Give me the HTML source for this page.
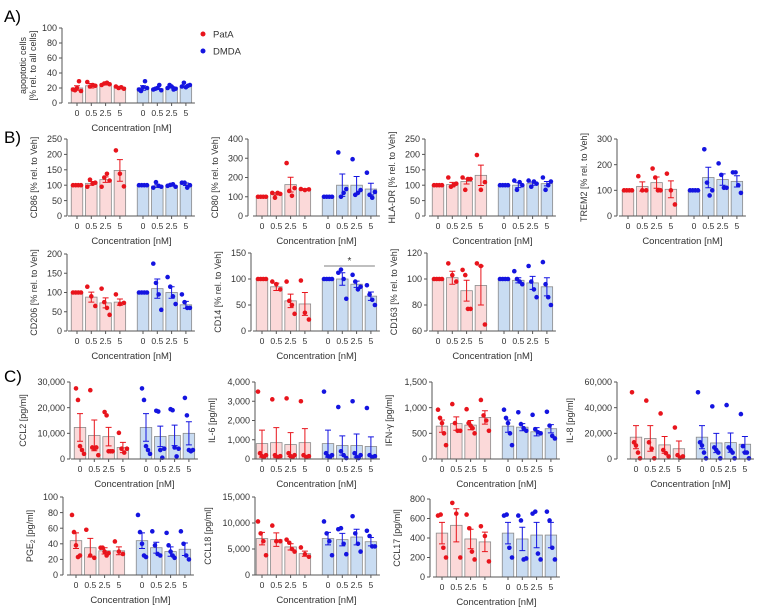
<!DOCTYPE html>
<html><head><meta charset="utf-8"><style>
html,body{margin:0;padding:0;background:#fff;}
svg{display:block;font-family:"Liberation Sans",sans-serif;}
</style></head><body>
<svg id="fig" width="762" height="610" viewBox="0 0 762 610" xmlns="http://www.w3.org/2000/svg">
<text x="4" y="22" font-size="17">A)</text>
<text x="4" y="143" font-size="17">B)</text>
<text x="4" y="382" font-size="17">C)</text>
<g>
<circle cx="203" cy="34" r="2.5" fill="#e8141c"/>
<text x="213" y="37.5" font-size="9.5" fill="#333">PatA</text>
<circle cx="203" cy="51" r="2.5" fill="#1414e0"/>
<text x="213" y="54.5" font-size="9.5" fill="#333">DMDA</text>
</g>
</svg>
<script>
const xCategories=["0","0.5","2.5","5"];
// Panel A
const apopMeans=[20,23,25,21,20,19,21,22];
const apopSem=[3,3,1,1,3,1,1,1];
const apopPts=[[18,17,20,29,16],[28,22,24,23],[24,26,27,25],[22,20,21,19],[18,16,21,29,20],[18,19,20,24,17],[20,24,22,18,19],[22,27,21,23,24]];
const apopTicks=[0,20,40,60,80,100];
// CD86
const cd86Means=[100,106,118,148,100,97,99,103];
const cd86Sem=[0,6,9,35,0,4,2,4];
const cd86Pts=[[100,100,100,100],[95,118,105,108],[95,125,137,115],[213,137,96],[100,100,100,100],[92,110,98,95],[98,101,103,95],[108,108,92,100]];
const cd86Ticks=[0,50,100,150,200,250];
// CD80
const cd80Means=[100,115,163,138,100,160,160,140];
const cd80Sem=[0,6,38,4,0,58,45,30];
const cd80Pts=[[100,100,100,100],[120,95,120,115],[275,130,105,145],[140,135,138],[100,100,100,100],[330,100,120,140],[295,110,120,135],[225,110,95,125]];
const cd80Ticks=[0,100,200,300,400];
// HLA-DR
const hlaMeans=[100,102,112,132,100,100,105,105];
const hlaSem=[0,7,8,33,0,8,5,7];
const hlaPts=[[100,100,100,100],[125,95,100,105],[125,85,120,120],[198,85,110],[100,100,100,100],[115,85,110,100],[115,95,112,105],[125,85,100,112]];
const hlaTicks=[0,50,100,150,200,250];
// TREM2
const tremMeans=[100,115,130,104,100,150,142,135];
const tremSem=[0,18,22,33,0,40,22,22];
const tremPts=[[100,100,100,100],[155,100,100],[185,150,100,100],[165,100,45],[100,100,100,100],[260,130,80,100],[205,160,110,110],[170,170,120,90]];
const tremTicks=[0,100,200,300];
// CD206
const cd206Means=[100,88,73,75,100,110,100,68];
const cd206Sem=[0,13,13,8,0,25,15,9];
const cd206Pts=[[100,100,100,100],[115,90,65],[110,75,60,42],[95,70,73],[100,100,100,100],[175,125,95,55],[140,115,90,70],[95,75,60,60]];
const cd206Ticks=[0,50,100,150,200];
// CD14
const cd14Means=[100,85,58,52,100,100,90,67];
const cd14Sem=[0,7,13,22,0,12,6,8];
const cd14Pts=[[100,100,100,100],[95,90,80],[95,58,50,33],[97,35,22],[100,100,100,100],[112,118,100,62],[108,95,80,85],[88,70,60,50]];
const cd14Ticks=[0,50,100,150];
// CD163
const cd163Means=[100,101,91,95,100,99,97,94];
const cd163Sem=[0,5,8,15,0,2,5,7];
const cd163Pts=[[100,100,100,100],[112,103,98],[107,103,77,77],[112,110,65],[100,100,100,100],[106,100,98,96],[110,98,92,86],[113,96,86,80]];
const cd163Ticks=[60,80,100,120];
// CCL2
const ccl2Means=[12300,9200,8700,4500,12300,8800,9200,10000];
const ccl2Sem=[5400,6000,3600,2000,5400,4000,4000,4500];
const ccl2Pts=[[27500,23000,5000,3500,2000],[26800,4500,4000,4500,1500],[18300,17000,3000,3000,3000],[10200,4000,2500,4000],[27500,23000,5000,3500,2000],[18800,18500,3500,500,4000],[19400,19000,4500,1000,4000],[23800,17000,3500,3000,3500]];
const ccl2Ticks=[0,10000,20000,30000];
// IL-6
const il6Means=[800,850,750,850,800,700,700,650];
const il6Sem=[700,780,620,730,700,500,600,500];
const il6Pts=[[3500,300,150,100,200],[3100,200,100,150],[3150,300,150,100,200],[3000,200,100,150],[3500,300,150,100,200],[2700,400,200,50],[3000,300,100,50,200],[2650,200,100,150]];
const il6Ticks=[0,1000,2000,3000,4000];
// IFN-g
const ifnMeans=[640,690,660,810,640,620,530,590];
const ifnSem=[120,130,90,130,120,70,80,80];
const ifnPts=[[960,800,700,500,270],[1070,700,550,550],[970,700,650,600,500],[1150,850,750,550],[960,800,700,500,270],[910,680,600,550],[860,580,520,500],[920,650,450,400]];
const ifnTicks=[0,500,1000,1500];
// IL-8
const il8Means=[17000,16000,11000,8000,17000,12500,12800,11500];
const il8Sem=[9000,10000,6500,6000,9000,7500,7500,6000];
const il8Pts=[[52000,13000,10500,5000,500],[45500,13000,8000,500],[35500,7000,4500,2000],[24500,3000,1000,2000],[52000,13000,10500,5000,500],[41000,9000,7000,5000,500],[42000,9000,7000,5000,500],[35000,10000,5000,5000,500]];
const il8Ticks=[0,20000,40000,60000];
// PGE2
const pgeMeans=[44,35,31,31,44,35,30,33];
const pgeSem=[10,12,4,5,10,7,6,8];
const pgePts=[[77,55,38,23,25],[58,25,22],[35,35,30,25,28],[43,30,27],[77,55,40,25,23],[56,38,27,25],[54,38,30,25,22],[56,40,25,20]];
const pgeTicks=[0,20,40,60,80,100];
// CCL18
const ccl18Means=[7000,6800,5400,4100,7000,6800,7300,6400];
const ccl18Sem=[1200,1300,600,500,1200,1200,1500,800];
const ccl18Pts=[[10300,8000,6500,3800],[9500,6500,6500],[6800,6200,5000,4500],[5300,4000,3500],[10300,8000,6500,3800],[8800,9000,6000,4000],[11300,8000,6000,4500],[8500,7500,5500,5500]];
const ccl18Ticks=[0,5000,10000,15000];
// CCL17
const ccl17Means=[450,530,390,360,450,390,430,430];
const ccl17Sem=[110,170,100,100,110,120,130,130];
const ccl17Pts=[[630,640,300,200],[760,650,200],[640,500,260,180],[520,420,160],[630,640,300,200],[630,580,180,190],[650,670,240,180],[670,580,300,180]];
const ccl17Ticks=[0,200,400,600,800];

const NS="http://www.w3.org/2000/svg";
const svg=document.getElementById('fig');
function mk(tag,attrs,parent){const e=document.createElementNS(NS,tag);for(const k in attrs)e.setAttribute(k,attrs[k]);(parent||svg).appendChild(e);return e;}

function panel(id,title,means,sem,pts,ticks,ax,b0,top,bot,titleOff,sig){
  const g=mk('g',{});
  
  
  const ymin=ticks[0],ymax=ticks[ticks.length-1];
  const y=v=>bot-(v-ymin)/(ymax-ymin)*(bot-top);
  const x=i=>b0+(i%4)*14.3+(i>=4?66:0);
  const bw=11.5;
  for(let i=0;i<8;i++){
    const red=i<4;
    const col=red?'#e8141c':'#1414e0';
    const bar=mk('rect',{x:x(i)-bw/2,y:y(means[i]),width:bw,height:bot-y(means[i]),fill:red?'#fbd9d9':'#c9dcf2',stroke:'#8a8a8a','stroke-width':0.8},g);
    
    
    if(sem[i]>0){
      const eb=mk('path',{d:`M${x(i)},${y(means[i]-sem[i])}V${y(means[i]+sem[i])}M${x(i)-3},${y(means[i]+sem[i])}H${x(i)+3}M${x(i)-3},${y(means[i]-sem[i])}H${x(i)+3}`,stroke:col,'stroke-width':1,fill:'none'},g);
      
      
    }
    const p=pts[i],n=p.length;
    p.forEach((v,j)=>{
      const dx=n>1?(j-(n-1)/2)*(8/(n-1)):0;
      const c=mk('circle',{cx:x(i)+dx,cy:y(v),r:2.3,fill:col},g);
      
      
    });
  }
  const ya=mk('line',{x1:ax,y1:top,x2:ax,y2:bot,stroke:'#555','stroke-width':1},g);
  
  
  ticks.forEach(t=>{
    mk('line',{x1:ax-3,y1:y(t),x2:ax,y2:y(t),stroke:'#555','stroke-width':1},g);
    const tl=mk('text',{x:ax-5,y:y(t)+3.2,'font-size':9,'text-anchor':'end',fill:'#333'},g);
    tl.textContent=t.toLocaleString('en-US');
    
    
  });
  const xa=mk('line',{x1:x(0)-9,y1:bot,x2:x(7)+9,y2:bot,stroke:'#555','stroke-width':1},g);
  
  
  for(let i=0;i<8;i++){
    mk('line',{x1:x(i),y1:bot,x2:x(i),y2:bot+3,stroke:'#555','stroke-width':1},g);
    const tl=mk('text',{x:x(i),y:bot+13,'font-size':8.6,'text-anchor':'middle',fill:'#333'},g);
    tl.textContent=xCategories[i%4];
    
    
  }
  const xt=mk('text',{x:(x(0)+x(7))/2,y:bot+28,'font-size':9.5,'text-anchor':'middle',fill:'#333'},g);
  xt.textContent='Concentration [nM]';
  
  
  const cx=ax-titleOff,cy=(top+bot)/2;
  const yt=mk('text',{x:cx,y:cy,'font-size':9,'text-anchor':'middle',fill:'#333',transform:`rotate(-90 ${cx} ${cy})`},g);
  
  
  if(Array.isArray(title)){
    title.forEach((t,k)=>{const ts=mk('tspan',{x:cx,dy:k?10:-2},yt);ts.innerHTML=t;});
  } else yt.innerHTML=title;
  if(sig){
    const sy=y(sig);
    const sl=mk('line',{x1:x(4)-4,y1:sy,x2:x(7)+4,y2:sy,stroke:'#555','stroke-width':0.8},g);
    
    
    const st=mk('text',{x:(x(4)+x(7))/2,y:sy-2,'font-size':10,'text-anchor':'middle',fill:'#333'},g);
    st.textContent='*';
    
    
  }
}
panel('apoptotic',['apoptotic cells','[% rel. to all cells]'],apopMeans,apopSem,apopPts,apopTicks,62,77,28,103,34);
panel('cd86','CD86 [% rel. to Veh]',cd86Means,cd86Sem,cd86Pts,cd86Ticks,67,77,139,216,30);
panel('cd80','CD80 [% rel. to Veh]',cd80Means,cd80Sem,cd80Pts,cd80Ticks,248,262,139,216,30);
panel('hla-dr','HLA-DR [% rel. to Veh]',hlaMeans,hlaSem,hlaPts,hlaTicks,425,438,139,216,30);
panel('trem2','TREM2 [% rel. to Veh]',tremMeans,tremSem,tremPts,tremTicks,617,628,139,216,30);
panel('cd206','CD206 [% rel. to Veh]',cd206Means,cd206Sem,cd206Pts,cd206Ticks,67,77,254,331,30);
panel('cd14','CD14 [% rel. to Veh]',cd14Means,cd14Sem,cd14Pts,cd14Ticks,251,262,253,331,30,125);
panel('cd163','CD163 [% rel. to Veh]',cd163Means,cd163Sem,cd163Pts,cd163Ticks,427,438,253,331,30);
panel('ccl2','CCL2 [pg/ml]',ccl2Means,ccl2Sem,ccl2Pts,ccl2Ticks,70,80,382,459,44);
panel('il6','IL-6 [pg/ml]',il6Means,il6Sem,il6Pts,il6Ticks,255,262,382,459,40);
panel('ifn-gamma','IFN-γ [pg/ml]',ifnMeans,ifnSem,ifnPts,ifnTicks,432,442,382,459,40);
panel('il8','IL-8 [pg/ml]',il8Means,il8Sem,il8Pts,il8Ticks,617,636,382,459,44);
panel('pge2','PGE<tspan font-size="6.5" dy="2">2</tspan><tspan dy="-2"> [pg/ml]</tspan>',pgeMeans,pgeSem,pgePts,pgeTicks,63,76,497,575,30);
panel('ccl18','CCL18 [pg/ml]',ccl18Means,ccl18Sem,ccl18Pts,ccl18Ticks,255,262,497,575,44);
panel('ccl17','CCL17 [pg/ml]',ccl17Means,ccl17Sem,ccl17Pts,ccl17Ticks,430,442,499,577,30);
</script>
</body></html>
